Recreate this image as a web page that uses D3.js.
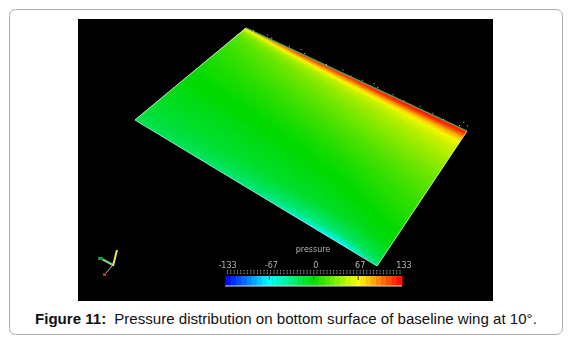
<!DOCTYPE html>
<html>
<head>
<meta charset="utf-8">
<script src="https://cdn.jsdelivr.net/npm/d3@7"></script>
<style>
  html, body { margin: 0; padding: 0; background: #fff; }
  svg { display: block; }
</style>
</head>
<body>
<svg width="571" height="340"></svg>
<script>
// pressure, rows go leading edge -> trailing edge, columns go along the span
const spanStops = [0, 0.25, 0.5, 0.7, 0.85, 1]
const chordStops = [0, 0.008, 0.018, 0.032, 0.05, 0.08, 0.13, 0.22, 0.35, 0.5, 0.7, 0.85, 0.95, 1]
const pressureRows = [
  [55, 80, 85, 90, 95, 95],
  [68, 112, 118, 122, 124, 120],
  [58, 100, 114, 122, 124, 122],
  [44, 78, 94, 104, 108, 108],
  [34, 58, 72, 80, 84, 88],
  [26, 42, 54, 60, 64, 68],
  [20, 32, 42, 48, 52, 56],
  [14, 23, 31, 37, 41, 44],
  [7, 12, 18, 23, 27, 30],
  [1, 3, 6, 10, 14, 18],
  [-7, -7, -5, -3, 1, 6],
  [-13, -13, -12, -12, -10, -4],
  [-18, -20, -25, -32, -30, -18],
  [-22, -27, -36, -56, -70, -32]
]
const tickValues = [-133, -67, 0, 67, 133]
const tickLabels = ["-133", "-67", "0", "67", "133"]
const colorStops = ["#0000ff", "#00ffff", "#00e000", "#ffff00", "#ff0000"]
// stray pixels outside the leading edge: span position, distance off the edge
const specks = [
  [0.03, 1], [0.09, 3], [0.11, 2], [0.19, 2], [0.24, 4], [0.26, 2], [0.36, 1], [0.43, 3],
  [0.47, 1], [0.52, 2], [0.57, 4], [0.59, 2], [0.66, 2], [0.71, 1], [0.78, 3], [0.84, 2],
  [0.89, 1], [0.96, 2], [0.99, 5], [0.97, 7]
]

const svg = d3.select("svg")

var blur = svg.append("defs").append("filter").attr("id", "soft")
  .attr("x", "-10%").attr("y", "-30%").attr("width", "120%").attr("height", "160%")
blur.append("feGaussianBlur").attr("stdDeviation", 0.45)

// card
svg.append("rect")
  .attr("x", 9.5).attr("y", 9.5)
  .attr("width", 553).attr("height", 325)
  .attr("rx", 6)
  .attr("fill", "#fff")
  .attr("stroke", "#adadad")

// plot background
svg.append("rect")
  .attr("x", 78).attr("y", 19)
  .attr("width", 415).attr("height", 282)
  .attr("fill", "#000")

var color = d3.scaleLinear().domain(tickValues).range(colorStops).clamp(true)

// wing corners on screen
var a = [246, 28], b = [467, 131], c = [377, 266], d = [135, 120]
function project(u, v) {
  var x0 = d3.interpolateNumber(a[0], b[0])(u), y0 = d3.interpolateNumber(a[1], b[1])(u)
  var x1 = d3.interpolateNumber(d[0], c[0])(u), y1 = d3.interpolateNumber(d[1], c[1])(u)
  return [x0 + (x1 - x0) * v, y0 + (y1 - y0) * v]
}

var spanIndex = d3.scaleLinear().domain(spanStops).range(d3.range(spanStops.length))
var chordIndex = d3.scaleLinear().domain(chordStops).range(d3.range(chordStops.length))

function pressureAt(u, v) {
  var i = spanIndex(u), j = chordIndex(v)
  var i0 = Math.min(Math.floor(i), spanStops.length - 2), j0 = Math.min(Math.floor(j), chordStops.length - 2)
  var fi = i - i0, fj = j - j0
  var top = pressureRows[j0][i0] * (1 - fi) + pressureRows[j0][i0 + 1] * fi
  var bot = pressureRows[j0 + 1][i0] * (1 - fi) + pressureRows[j0 + 1][i0 + 1] * fi
  return top * (1 - fj) + bot * fj
}

// surface, fine quads so the colours blend
var nu = 110, nv = 170
var cells = []
d3.range(nu).forEach(i => d3.range(nv).forEach(j => cells.push({ i: i, j: j })))

svg.append("g").selectAll("path")
  .data(cells)
  .enter()
  .append("path")
  .attr("d", q => {
    var u0 = q.i / nu, u1 = (q.i + 1) / nu, v0 = q.j / nv, v1 = (q.j + 1) / nv
    return d3.line()([project(u0, v0), project(u1, v0), project(u1, v1), project(u0, v1)]) + "Z"
  })
  .attr("fill", q => color(pressureAt((q.i + 0.5) / nu, (q.j + 0.5) / nv)))
  .attr("stroke", q => color(pressureAt((q.i + 0.5) / nu, (q.j + 0.5) / nv)))
  .attr("stroke-width", 0.6)

// wing outline
function edge(p, q, stroke, w) {
  svg.append("line")
    .attr("x1", p[0]).attr("y1", p[1]).attr("x2", q[0]).attr("y2", q[1])
    .attr("stroke", stroke).attr("stroke-width", w)
}
edge(a, b, "#4f9a63", 1.2)
edge(a, d, "#d8f0d0", 0.8)
edge(d, c, "#d4ded4", 0.7)
edge(c, b, "#e0f0b0", 0.8)

// specks above the leading edge
svg.append("g").selectAll("rect")
  .data(specks)
  .enter()
  .append("rect")
  .attr("x", s => project(s[0], 0)[0] + s[1] * 0.42)
  .attr("y", s => project(s[0], 0)[1] - s[1] * 0.9)
  .attr("width", 1).attr("height", 1)
  .attr("fill", "#cfcfcf")

// colour bar
var barX = d3.scaleLinear().domain([-133, 133]).range([225.5, 402])
var bands = d3.range(-133, 133, 266 / 34)
svg.append("g").selectAll("rect")
  .data(bands)
  .enter()
  .append("rect")
  .attr("x", v => barX(v))
  .attr("y", 276)
  .attr("width", barX(-133 + 266 / 34) - barX(-133) + 0.5)
  .attr("height", 10)
  .attr("fill", v => color(v + 133 / 34))
svg.append("line")
  .attr("x1", 225).attr("x2", 402).attr("y1", 286).attr("y2", 286)
  .attr("stroke", "#ddd")

// tick row above the bar
svg.append("g").attr("filter", "url(#soft)").selectAll("line")
  .data(barX.ticks(50))
  .enter()
  .append("line")
  .attr("x1", v => barX(v)).attr("x2", v => barX(v))
  .attr("y1", 270).attr("y2", 275)
  .attr("stroke", "#9a9a9a")
  .attr("stroke-dasharray", "1.5 1")

svg.append("g").selectAll("line")
  .data(tickValues.slice(1, 4))
  .enter()
  .append("line")
  .attr("x1", v => barX(v)).attr("x2", v => barX(v))
  .attr("y1", 274).attr("y2", 280)
  .attr("stroke", "#333")

svg.append("g").attr("filter", "url(#soft)").selectAll("text")
  .data(tickValues)
  .enter()
  .append("text")
  .attr("x", v => barX(v) + 2)
  .attr("y", 268)
  .attr("text-anchor", "middle")
  .attr("font-family", "'DejaVu Sans', sans-serif")
  .attr("font-size", 8)
  .attr("fill", "#b4b4b4")
  .text((v, i) => tickLabels[i])

svg.append("text")
  .attr("x", 313).attr("y", 252)
  .attr("text-anchor", "middle")
  .attr("font-family", "'DejaVu Sans', sans-serif")
  .attr("font-size", 8)
  .attr("fill", "#b4b4b4")
  .attr("filter", "url(#soft)")
  .text("pressure")

// axes triad, bottom left
svg.append("path").attr("d", d3.line()([[100, 258], [113, 265]])).attr("stroke", "#7fd07f").attr("stroke-width", 2).attr("fill", "none")
svg.append("path").attr("d", d3.line()([[113, 266], [117, 250]])).attr("stroke", "#e8e860").attr("stroke-width", 2).attr("fill", "none")
svg.append("path").attr("d", d3.line()([[113, 265], [105, 274]])).attr("stroke", "#c8c8c8").attr("stroke-width", 1).attr("fill", "none")
svg.append("rect").attr("x", 98).attr("y", 257).attr("width", 5).attr("height", 3).attr("fill", "#1f8f3f")
svg.append("rect").attr("x", 103).attr("y", 273).attr("width", 3).attr("height", 3).attr("fill", "#d02020")

// caption
var caption = svg.append("text")
  .attr("x", 35).attr("y", 324)
  .attr("font-family", "'Liberation Sans', Arial, sans-serif")
  .attr("font-size", 15.08)
  .attr("fill", "#111")
caption.append("tspan").attr("font-weight", "bold").text("Figure 11:")
caption.append("tspan").attr("dx", 8).text("Pressure distribution on bottom surface of baseline wing at 10°.")
</script>
</body>
</html>
